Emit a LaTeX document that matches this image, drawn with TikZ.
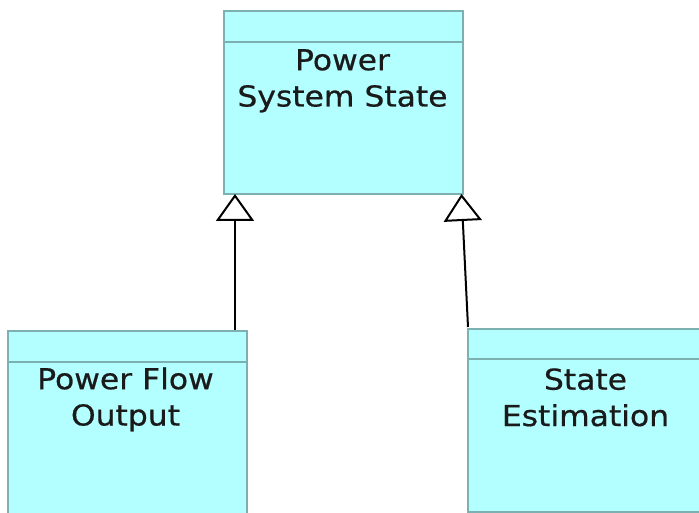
\documentclass[tikz,border=0pt]{standalone}
\usepackage{fontspec}
\newfontfamily\boxfont[FakeStretch=1.09, FakeBold=0.6]{DejaVu Sans}
\usetikzlibrary{arrows.meta}
\definecolor{classfill}{RGB}{179,255,255}
\definecolor{classedge}{RGB}{125,176,176}
\definecolor{classtext}{RGB}{26,26,26}
\tikzset{
  classbox/.style={draw=classedge, fill=classfill, line width=1.8pt,
    anchor=north west, inner sep=0pt, minimum width=239pt},
  classname/.style={anchor=base, align=center, inner sep=0pt,
    text=classtext, font=\boxfont\fontsize{28.8pt}{36.3pt}\selectfont},
  header/.style={draw=classedge, line width=1.8pt},
  inherit/.style={draw=black, line width=2pt,
    -{Triangle[open, length=27pt, width=38pt, fill=white]}}
}
\begin{document}
\begin{tikzpicture}[x=1pt, y=-1pt]
  \useasboundingbox (0,0) rectangle (699,513);
  \clip (0,0) rectangle (699,513);

  % Power System State (label anchored on its last baseline)
  \node[classbox, minimum height=183pt] (pss) at (223,10) {};
  \draw[header] (pss.west |- 0,42) -- (pss.east |- 0,42);
  \node[classname] (psslbl) at (342.5,106.5) {Power\\System State};

  % Power Flow Output
  \node[classbox, minimum height=200pt] (pfo) at (7,330) {};
  \draw[header] (pfo.west |- 0,362) -- (pfo.east |- 0,362);
  \node[classname] (pfolbl) at (125.5,425.5) {Power Flow\\Output};

  % State Estimation
  \node[classbox, minimum height=183pt] (se) at (467,328) {};
  \draw[header] (se.west |- 0,359) -- (se.east |- 0,359);
  \node[classname] (selbl) at (585.5,426) {State\\Estimation};

  % generalisation connectors
  \coordinate (pfotop) at (235,330);
  \coordinate (pssleft) at (235,194);
  \coordinate (setop) at (468,327);
  \coordinate (pssright) at (461.5,194);
  \draw[inherit] (pfotop) -- (pssleft);
  \draw[inherit] (setop) -- (pssright);
\end{tikzpicture}
\end{document}
